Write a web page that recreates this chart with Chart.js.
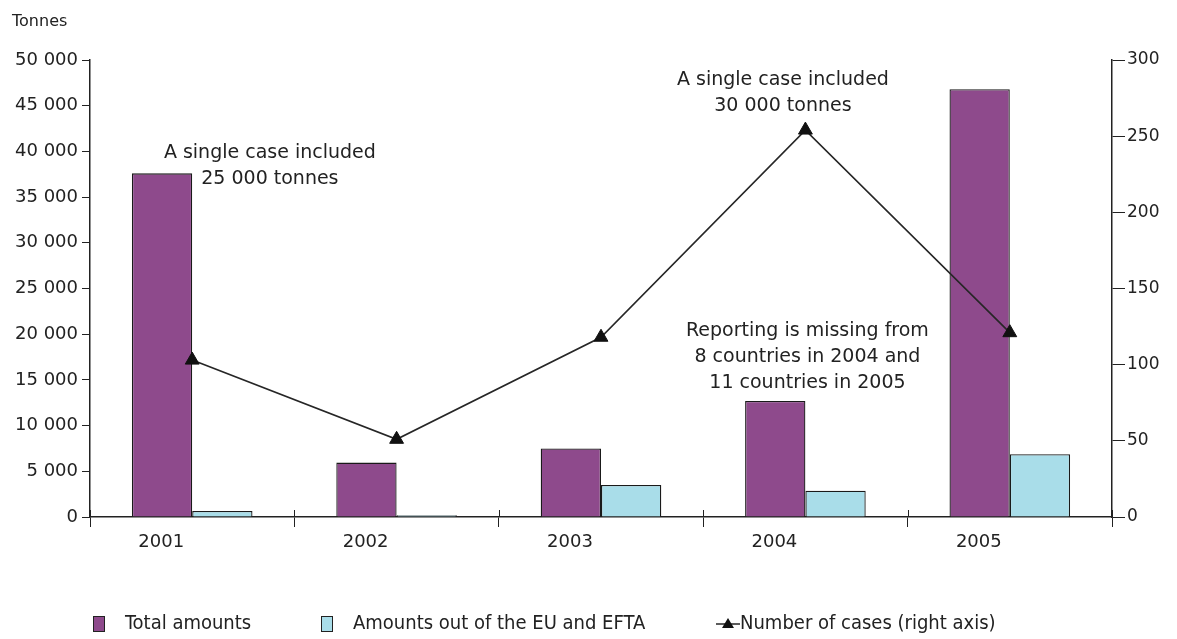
<!DOCTYPE html>
<html>
<head>
<meta charset="utf-8">
<script src="https://cdn.jsdelivr.net/npm/chart.js@4/dist/chart.umd.min.js"></script>
<style>
  html, body { margin: 0; padding: 0; background: #fff; }
  #wrap { width: 1177px; height: 639px; position: relative; }
</style>
</head>
<body>
<div id="wrap"><canvas id="chart" width="1177" height="639"></canvas></div>
<script>
// seizures by year: tonnes (left axis) and number of cases (right axis)
var years = ['2001', '2002', '2003', '2004', '2005'];
var totalAmounts = [37600, 5950, 7500, 12700, 46800];
var outsideEuEfta = [650, 200, 3500, 2880, 6860];
var numberOfCases = [103, 51, 118, 254, 121];

var tonnesTicks = [0, 5000, 10000, 15000, 20000, 25000, 30000, 35000, 40000, 45000, 50000];
var casesTicks = [0, 50, 100, 150, 200, 250, 300];

// notes: [category position, tonnes value of first line, lines]
var notes = [
  [0.38, 39800, ['A single case included', '25 000 tonnes']],
  [2.89, 47800, ['A single case included', '30 000 tonnes']],
  [3.01, 20350, ['Reporting is missing from', '8 countries in 2004 and', '11 countries in 2005']]
];

var FONT = '"DejaVu Sans", Verdana, sans-serif';
var purple = '#8e4a8c';
var lightBlue = '#a9dde9';

function spaced(v)
{
  return String(v).replace(/\B(?=(\d{3})+(?!\d))/g, ' ');
}

var extras = {
  id: 'extras',
  afterDraw: function(chart)
  {
    var ctx = chart.ctx;
    var x = chart.scales.x, y = chart.scales.y;
    ctx.save();

    // x ticks also poke up above the axis line
    ctx.strokeStyle = '#222';
    ctx.lineWidth = 1;
    for(var i = 0; i <= years.length; i++)
    {
      var px = Math.round(x.getPixelForValue(i - 0.5)) + 0.5;
      ctx.beginPath();
      ctx.moveTo(px, chart.chartArea.bottom - 7);
      ctx.lineTo(px, chart.chartArea.bottom);
      ctx.stroke();
    }

    ctx.fillStyle = '#222';
    ctx.font = '16px ' + FONT;
    ctx.textBaseline = 'middle';
    ctx.textAlign = 'left';
    ctx.fillText('Tonnes', 12, 22);

    // notes
    ctx.font = '19px ' + FONT;
    ctx.textAlign = 'center';
    notes.forEach(function(n)
    {
      var cx = x.getPixelForValue(n[0]);
      var cy = y.getPixelForValue(n[1]);
      n[2].forEach(function(line, i) { ctx.fillText(line, cx, cy + i * 25.8); });
    });

    // legend
    var ly = 624;
    ctx.font = '20px "DejaVu Sans Condensed", ' + FONT;
    ctx.textAlign = 'left';
    var ds = chart.data.datasets;
    ctx.lineWidth = 1;
    ctx.strokeStyle = '#222';
    ctx.fillStyle = ds[0].backgroundColor;
    ctx.fillRect(93.5, ly - 7.5, 11, 15);
    ctx.strokeRect(93.5, ly - 7.5, 11, 15);
    ctx.fillStyle = '#222';
    ctx.fillText(ds[0].label, 125, ly);

    ctx.fillStyle = ds[1].backgroundColor;
    ctx.fillRect(321.5, ly - 7.5, 11, 15);
    ctx.strokeRect(321.5, ly - 7.5, 11, 15);
    ctx.fillStyle = '#222';
    ctx.fillText(ds[1].label, 353, ly);

    ctx.strokeStyle = ds[2].borderColor;
    ctx.lineWidth = 1.5;
    ctx.beginPath();
    ctx.moveTo(716, ly);
    ctx.lineTo(740, ly);
    ctx.stroke();
    ctx.fillStyle = '#111';
    ctx.beginPath();
    ctx.moveTo(728, ly - 6);
    ctx.lineTo(734, ly + 4);
    ctx.lineTo(722, ly + 4);
    ctx.closePath();
    ctx.fill();
    ctx.fillStyle = '#222';
    ctx.fillText(ds[2].label, 740, ly);
    ctx.restore();
  }
};

new Chart(document.getElementById('chart').getContext('2d'), {
  data: {
    labels: years,
    datasets: [
      {
        type: 'bar',
        label: 'Total amounts',
        data: totalAmounts,
        yAxisID: 'y',
        backgroundColor: purple,
        borderColor: '#1a1a1a',
        borderWidth: 1.3,
        order: 2
      },
      {
        type: 'bar',
        label: 'Amounts out of the EU and EFTA',
        data: outsideEuEfta,
        yAxisID: 'y',
        backgroundColor: lightBlue,
        borderColor: '#1a1a1a',
        borderWidth: 1.3,
        order: 2
      },
      {
        type: 'line',
        label: 'Number of cases (right axis)',
        data: numberOfCases,
        yAxisID: 'y1',
        borderColor: '#262626',
        borderWidth: 1.6,
        tension: 0,
        pointStyle: 'triangle',
        pointRadius: 8,
        pointBackgroundColor: '#111',
        pointBorderColor: '#111',
        pointBorderWidth: 1,
        order: 1
      }
    ]
  },
  options: {
    responsive: false,
    animation: false,
    layout: { padding: { top: 60, left: 0, right: 0, bottom: 0 } },
    datasets: { bar: { barPercentage: 1, categoryPercentage: 0.59 } },
    plugins: {
      legend: { display: false },
      tooltip: { enabled: false }
    },
    scales: {
      x: {
        offset: true,
        grid: { display: true, drawOnChartArea: false, drawTicks: true, tickLength: 10, color: '#222', lineWidth: 1, offset: true },
        border: { display: true, color: '#222', width: 1.5 },
        ticks: { color: '#222', font: { family: FONT, size: 18 }, padding: 5, labelOffset: -31, maxRotation: 0 },
        afterFit: function(scale) { scale.height = 122; }
      },
      y: {
        position: 'left',
        min: 0,
        max: 50000,
        afterBuildTicks: function(scale) { scale.ticks = tonnesTicks.map(function(v) { return { value: v }; }); },
        grid: { display: true, drawOnChartArea: false, drawTicks: true, tickLength: 8, color: '#222' },
        border: { display: true, color: '#222', width: 1.5 },
        ticks: { color: '#222', font: { family: FONT, size: 18 }, padding: 4, callback: function(v) { return spaced(v); } },
        afterFit: function(scale) { scale.width = 90; }
      },
      y1: {
        position: 'right',
        min: 0,
        max: 300,
        afterBuildTicks: function(scale) { scale.ticks = casesTicks.map(function(v) { return { value: v }; }); },
        grid: { display: true, drawOnChartArea: false, drawTicks: true, tickLength: 13, color: '#222' },
        border: { display: true, color: '#222', width: 1.5 },
        ticks: { color: '#222', font: { family: FONT, size: 17 }, padding: 2 },
        afterFit: function(scale) { scale.width = 65; }
      }
    }
  },
  plugins: [extras]
});
</script>
</body>
</html>
